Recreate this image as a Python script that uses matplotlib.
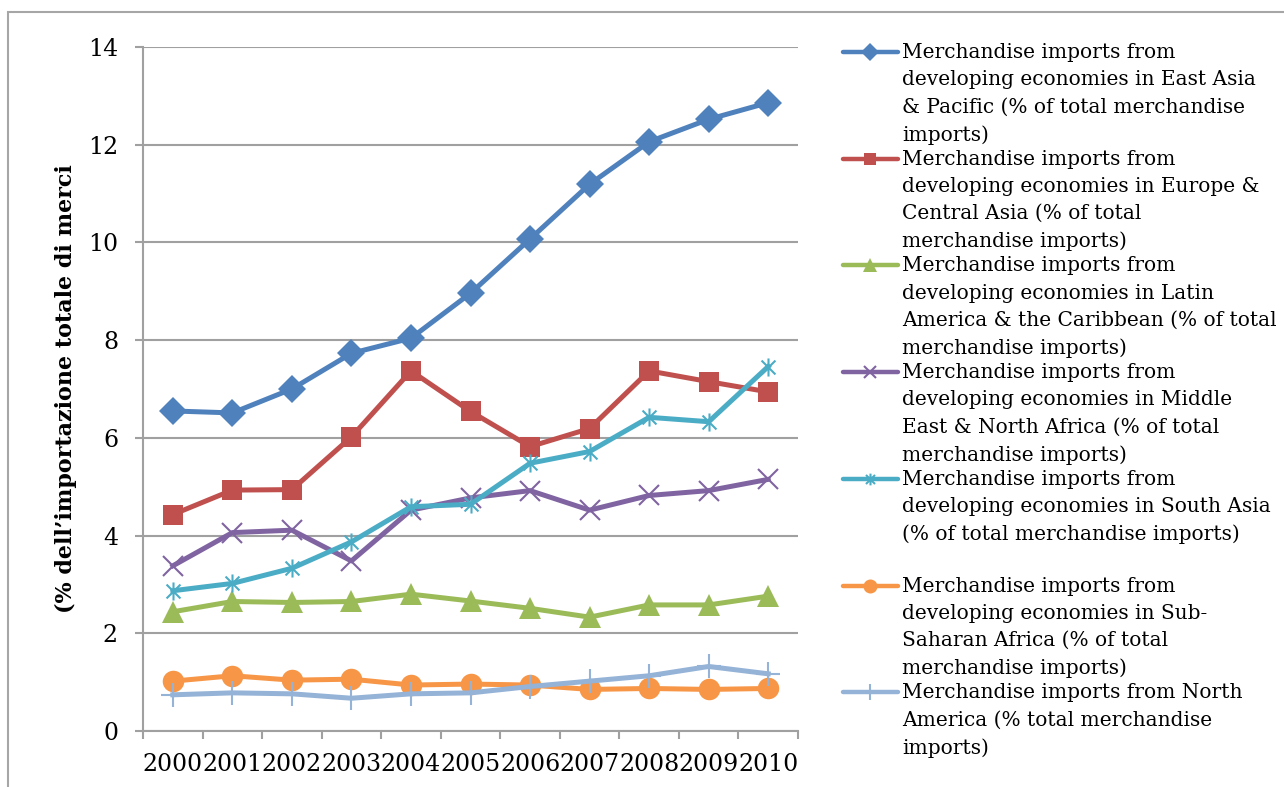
import matplotlib
matplotlib.use("Agg")
import matplotlib.pyplot as plt
from matplotlib.lines import Line2D
from matplotlib.path import Path
from matplotlib.patches import Rectangle

years = ["2000", "2001", "2002", "2003", "2004", "2005", "2006", "2007", "2008", "2009", "2010"]

east_asia = [6.55, 6.51, 7.00, 7.73, 8.04, 8.96, 10.07, 11.19, 12.06, 12.52, 12.86]
europe = [4.43, 4.93, 4.94, 6.02, 7.37, 6.54, 5.82, 6.19, 7.37, 7.15, 6.94]
latin = [2.44, 2.65, 2.63, 2.65, 2.80, 2.66, 2.51, 2.33, 2.58, 2.58, 2.76]
mena = [3.38, 4.06, 4.11, 3.48, 4.52, 4.77, 4.92, 4.52, 4.82, 4.92, 5.15]
south_asia = [2.87, 3.02, 3.33, 3.87, 4.59, 4.64, 5.48, 5.72, 6.42, 6.33, 7.46]
ssa = [1.02, 1.13, 1.04, 1.06, 0.94, 0.96, 0.94, 0.85, 0.87, 0.85, 0.87]
north_america = [0.74, 0.78, 0.76, 0.67, 0.76, 0.78, 0.91, 1.02, 1.13, 1.32, 1.17]

labels = [
    "Merchandise imports from\ndeveloping economies in East Asia\n& Pacific (% of total merchandise\nimports)",
    "Merchandise imports from\ndeveloping economies in Europe &\nCentral Asia (% of total\nmerchandise imports)",
    "Merchandise imports from\ndeveloping economies in Latin\nAmerica & the Caribbean (% of total\nmerchandise imports)",
    "Merchandise imports from\ndeveloping economies in Middle\nEast & North Africa (% of total\nmerchandise imports)",
    "Merchandise imports from\ndeveloping economies in South Asia\n(% of total merchandise imports)",
    "Merchandise imports from\ndeveloping economies in Sub-\nSaharan Africa (% of total\nmerchandise imports)",
    "Merchandise imports from North\nAmerica (% total merchandise\nimports)",
]

ylabel = "(% dell\u2019importazione totale di merci"

# asterisk marker like excel's star (x + vertical bar)
star = Path([(-1, -1), (1, 1), (-1, 1), (1, -1), (0, -1.3), (0, 1.3)],
            [Path.MOVETO, Path.LINETO, Path.MOVETO, Path.LINETO, Path.MOVETO, Path.LINETO])

series = [
    (east_asia, "#4F81BD", "D", 14, 0),
    (europe, "#C0504D", "s", 14, 0),
    (latin, "#9BBB59", "^", 16, 0),
    (mena, "#8064A2", "x", 14, 1.5),
    (south_asia, "#4BACC6", star, 13, 1.5),
    (ssa, "#F79646", "o", 15.5, 0),
    (north_america, "#95B3D7", "+", 17, 1.5),
]

plt.rcParams["font.family"] = "DejaVu Serif"

fig = plt.figure(figsize=(12.84, 7.87), dpi=100)
ax = fig.add_axes([0.1114, 0.0712, 0.5101, 0.8691])

x = list(range(len(years)))
for vals, col, mk, ms, mew in series:
    if mew > 0:
        ax.plot(x, vals, color=col, linewidth=3.6, marker=mk, markersize=ms,
                markeredgewidth=mew, markeredgecolor=col, zorder=3)
    else:
        ax.plot(x, vals, color=col, linewidth=3.6, marker=mk, markersize=ms,
                markeredgewidth=0, markerfacecolor=col, zorder=3)

ax.set_xlim(-0.5, 10.5)
ax.set_ylim(0, 14)
ax.set_yticks(range(0, 15, 2))
ax.set_yticklabels([str(v) for v in range(0, 15, 2)], fontsize=17)
ax.set_xticks(x)
ax.set_xticklabels(years, fontsize=17)
ax.set_xticks([i - 0.5 for i in range(12)], minor=True)
ax.tick_params(axis="x", which="major", length=0, pad=16)
ax.tick_params(axis="x", which="minor", length=6, width=1.5, color="#A0A0A0")
ax.tick_params(axis="y", length=6, width=1.5, color="#A0A0A0", pad=12)
ax.grid(axis="y", color="#A0A0A0", linewidth=1.5)
ax.set_axisbelow(True)
for s in ["top", "right"]:
    ax.spines[s].set_visible(False)
for s in ["left", "bottom"]:
    ax.spines[s].set_color("#A0A0A0")
    ax.spines[s].set_linewidth(1.5)

ax.set_ylabel(ylabel, fontsize=16, fontweight="bold", labelpad=8)

# legend drawn by hand so the handle sits on the first text line
W, H = 1284.0, 787.0
y0 = 52.0
step = 106.7
for i, (vals, col, mk, ms, mew) in enumerate(series):
    yy = 1 - (y0 + i * step) / H
    ln = Line2D([843 / W, 898 / W], [yy, yy], transform=fig.transFigure,
                color=col, linewidth=3.2, solid_capstyle="round")
    fig.add_artist(ln)
    if mew > 0:
        mkr = Line2D([870 / W], [yy], transform=fig.transFigure, marker=mk,
                     markersize=ms * 0.65, markeredgewidth=mew, color=col, linestyle="none")
    else:
        mkr = Line2D([870 / W], [yy], transform=fig.transFigure, marker=mk,
                     markersize=ms * 0.65, markeredgewidth=0, color=col, linestyle="none")
    fig.add_artist(mkr)
    fig.text(902 / W, yy + 9 / H, labels[i], fontsize=14.5, va="top", ha="left",
             linespacing=1.55)

# outer chart frame
fig.add_artist(Rectangle((8 / W, -0.1), 2, 1 - 12 / H + 0.1, transform=fig.transFigure,
                         fill=False, edgecolor="#A6A6A6", linewidth=1.5))

plt.savefig("out.png", dpi=100)
